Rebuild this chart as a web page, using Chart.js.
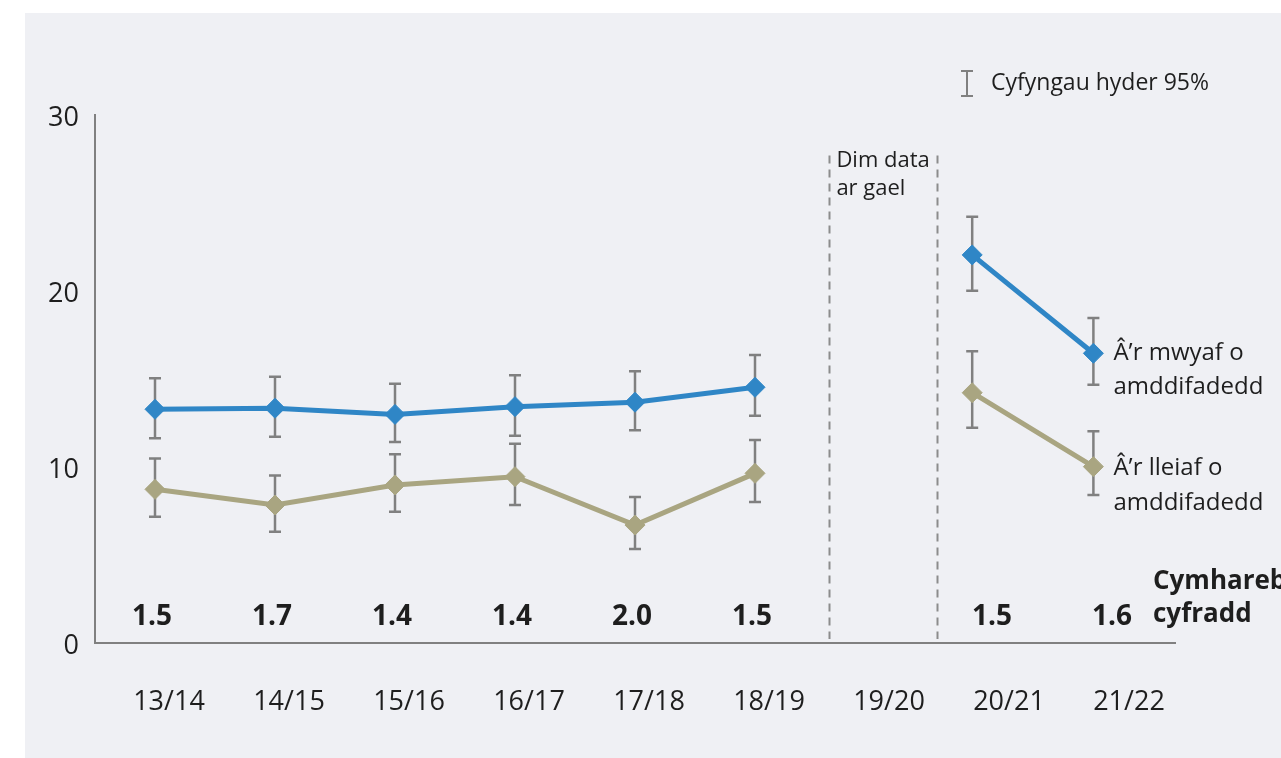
<!DOCTYPE html>
<html>
<head>
<meta charset="utf-8">
<script src="https://cdn.jsdelivr.net/npm/chart.js@4"></script>
<style>
    html, body { margin: 0; padding: 0; background: #ffffff; }
    #panel { position: absolute; left: 25px; top: 13px; width: 1256px; height: 745px; background: #eff0f4; }
    #chart { position: absolute; left: 0; top: 0; }
</style>
</head>
<body>
<div id="panel"></div>
<canvas id="chart" width="1281" height="758"></canvas>
<script>
// --- DATA ---
const categories = ['13/14', '14/15', '15/16', '16/17', '17/18', '18/19', '19/20', '20/21', '21/22'];
// where each period's point sits on the axis (last two sit a bit left of their label in the original)
const xPos = [0, 1, 2, 3, 4, 5, 6, 6.81, 7.82];

const mostDeprived = [13.28, 13.34, 12.99, 13.43, 13.68, 14.53, null, 22.05, 16.46];
const mostLow      = [11.63, 11.72, 11.42, 11.78, 12.09, 12.91, null, 20.02, 14.68];
const mostHigh     = [15.04, 15.13, 14.73, 15.21, 15.44, 16.36, null, 24.22, 18.47];

const leastDeprived = [8.73, 7.84, 8.98, 9.45, 6.70, 9.64, null, 14.22, 10.02];
const leastLow      = [7.18, 6.32, 7.46, 7.84, 5.34, 8.01, null, 12.23, 8.41];
const leastHigh     = [10.49, 9.51, 10.72, 11.32, 8.30, 11.53, null, 16.57, 12.03];

const rateRatio = [1.5, 1.7, 1.4, 1.4, 2.0, 1.5, null, 1.5, 1.6];

const yTicks = [0, 10, 20, 30];
const noDataBounds = [5.62, 6.52]; // dashed lines around 19/20
const noDataTop = 27.7;

const blue = '#2f86c6';
const tan = '#a9a581';
const grey = '#808080';
const textColour = '#1e1e1e';

Chart.defaults.font.family = "'Open Sans', 'Noto Sans', sans-serif";
Chart.defaults.color = textColour;

// --- OVERLAY: error bars, no-data gap, ratio row, labels ---
const overlay = {
    id: 'overlay',
    beforeDatasetsDraw(chart) {
        const { ctx, scales: { x, y } } = chart;
        ctx.save();

        // 95% confidence bars
        ctx.strokeStyle = grey;
        ctx.lineWidth = 2.5;
        [[mostLow, mostHigh], [leastLow, leastHigh]].forEach(([lo, hi]) => {
            lo.forEach((v, i) => {
                if (v === null) return;
                const px = x.getPixelForValue(xPos[i]);
                const top = y.getPixelForValue(hi[i]);
                const bot = y.getPixelForValue(v);
                ctx.beginPath();
                ctx.moveTo(px, top); ctx.lineTo(px, bot);
                ctx.moveTo(px - 6, top); ctx.lineTo(px + 6, top);
                ctx.moveTo(px - 6, bot); ctx.lineTo(px + 6, bot);
                ctx.stroke();
            });
        });

        // dashed lines around the missing year
        ctx.setLineDash([8, 6]);
        ctx.lineWidth = 2;
        ctx.strokeStyle = '#8c8c8c';
        noDataBounds.forEach(b => {
            const px = Math.round(x.getPixelForValue(b)) + 0.5;
            ctx.beginPath();
            ctx.moveTo(px, y.getPixelForValue(noDataTop));
            ctx.lineTo(px, y.getPixelForValue(0) - 4);
            ctx.stroke();
        });
        ctx.setLineDash([]);
        ctx.restore();
    },
    afterDatasetsDraw(chart) {
        const { ctx, chartArea, scales: { x, y } } = chart;
        ctx.save();
        ctx.fillStyle = textColour;
        ctx.textBaseline = 'middle';

        // "Dim data ar gael"
        ctx.font = "22px 'Open Sans'";
        ctx.textAlign = 'left';
        const gx = x.getPixelForValue(noDataBounds[0]) + 7;
        ctx.fillText('Dim data', gx, 161);
        ctx.fillText('ar gael', gx, 189);

        // rate ratio row
        ctx.font = "bold 28px 'Open Sans'";
        ctx.textAlign = 'center';
        const rowY = y.getPixelForValue(0) - 26;
        rateRatio.forEach((r, i) => {
            if (r === null) return;
            ctx.fillText(r.toFixed(1), x.getPixelForValue(i) - 3, rowY);
        });
        ctx.font = "bold 26px 'Open Sans'";
        ctx.textAlign = 'left';
        const rx = x.getPixelForValue(categories.length - 1) + 38;
        ctx.fillText('Cymhareb', rx, rowY - 35);
        ctx.fillText('cyfradd', rx, rowY - 2);

        // series labels next to last points
        ctx.font = "24px 'Open Sans'";
        const last = categories.length - 1;
        const lx = x.getPixelForValue(xPos[last]) + 20;
        const by = y.getPixelForValue(mostDeprived[last]);
        ctx.fillText('\u00C2\u2019r mwyaf o', lx, by);
        ctx.fillText('amddifadedd', lx, by + 34);
        const ty = y.getPixelForValue(leastDeprived[last]);
        ctx.fillText('\u00C2\u2019r lleiaf o', lx, ty + 2);
        ctx.fillText('amddifadedd', lx, ty + 37);

        // confidence interval key
        const kx = chartArea.right - 208;
        ctx.strokeStyle = grey;
        ctx.lineWidth = 2;
        ctx.beginPath();
        ctx.moveTo(kx, 71); ctx.lineTo(kx, 96);
        ctx.moveTo(kx - 6, 71); ctx.lineTo(kx + 6, 71);
        ctx.moveTo(kx - 6, 96); ctx.lineTo(kx + 6, 96);
        ctx.stroke();
        ctx.font = "23px 'Open Sans'";
        ctx.fillText('Cyfyngau hyder 95%', kx + 24, 83);

        ctx.restore();
    }
};

const ctx = document.getElementById('chart').getContext('2d');

new Chart(ctx, {
    type: 'line',
    data: {
        datasets: [
            {
                label: 'Most deprived',
                data: xPos.map((xv, i) => ({ x: xv, y: mostDeprived[i] })),
                borderColor: blue,
                backgroundColor: blue,
                borderWidth: 5,
                pointStyle: 'rectRot',
                pointRadius: 10,
                pointBorderWidth: 1,
                spanGaps: false
            },
            {
                label: 'Least deprived',
                data: xPos.map((xv, i) => ({ x: xv, y: leastDeprived[i] })),
                borderColor: tan,
                backgroundColor: tan,
                borderWidth: 5,
                pointStyle: 'rectRot',
                pointRadius: 10,
                pointBorderWidth: 1,
                spanGaps: false
            }
        ]
    },
    options: {
        responsive: false,
        animation: false,
        layout: { padding: { top: 115, right: 106, left: 0, bottom: 0 } },
        plugins: {
            legend: { display: false },
            tooltip: { enabled: false }
        },
        scales: {
            x: {
                type: 'linear',
                min: -0.5,
                max: 8.5,
                grid: { display: false, drawTicks: false },
                border: { display: true, color: grey, width: 2 },
                afterBuildTicks: (scale) => {
                    scale.ticks = categories.map((c, i) => ({ value: i }));
                },
                afterFit: (scale) => { scale.height = 115; },
                ticks: {
                    autoSkip: false,
                    maxRotation: 0,
                    padding: 43,
                    labelOffset: 14,
                    font: { size: 27 },
                    color: textColour,
                    callback: (v) => categories[v] ?? ''
                }
            },
            y: {
                min: 0,
                max: 30,
                grid: { display: false, drawTicks: false },
                border: { display: true, color: grey, width: 2 },
                afterBuildTicks: (scale) => {
                    scale.ticks = yTicks.map(v => ({ value: v }));
                },
                afterFit: (scale) => { scale.width = 95; },
                ticks: {
                    padding: 16,
                    labelOffset: 3,
                    font: { size: 27 },
                    color: textColour
                }
            }
        }
    },
    plugins: [overlay]
});
</script>
</body>
</html>
